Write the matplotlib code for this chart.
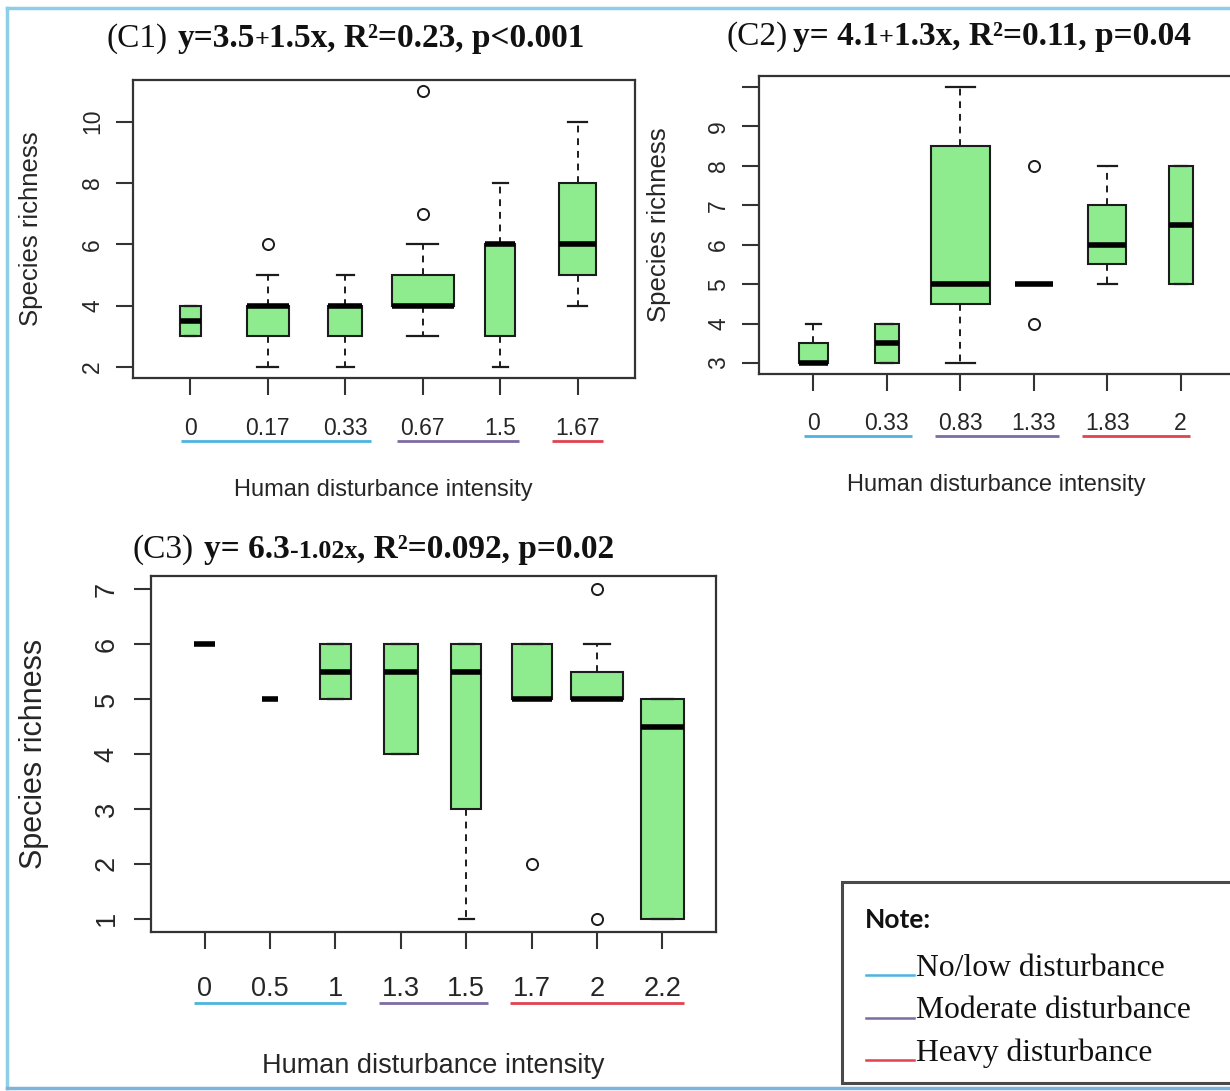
import matplotlib
matplotlib.use('Agg')
import matplotlib.pyplot as plt
from matplotlib.patches import Rectangle
from matplotlib.lines import Line2D
import numpy as np

W, H = 1230, 1091

# ---------------- data ----------------
c1_labels = ['0', '0.17', '0.33', '0.67', '1.5', '1.67']
c1_n = [2, 8, 5, 17, 4, 6]
c1_whislo = [3, 2, 2, 3, 2, 4]
c1_q1 = [3, 3, 3, 4, 3, 5]
c1_med = [3.5, 4, 4, 4, 6, 6]
c1_q3 = [4, 4, 4, 5, 6, 8]
c1_whishi = [4, 5, 5, 6, 8, 10]
c1_fliers = [[], [6], [], [7, 11], [], []]
c1_groups = [0, 0, 0, 1, 1, 2]
c1_yticks = [2, 4, 6, 8, 10]
c1_yticklabels = ['2', '4', '6', '8', '10']

c2_labels = ['0', '0.33', '0.83', '1.33', '1.83', '2']
c2_n = [3, 2, 12, 5, 5, 2]
c2_whislo = [3, 3, 3, 5, 5, 5]
c2_q1 = [3, 3, 4.5, 5, 5.5, 5]
c2_med = [3, 3.5, 5, 5, 6, 6.5]
c2_q3 = [3.5, 4, 8.5, 5, 7, 8]
c2_whishi = [4, 4, 10, 5, 8, 8]
c2_fliers = [[], [], [], [4, 8], [], []]
c2_groups = [0, 0, 1, 1, 2, 2]
c2_yticks = [3, 4, 5, 6, 7, 8, 9, 10]
c2_yticklabels = ['3', '4', '5', '6', '7', '8', '9', '']

c3_labels = ['0', '0.5', '1', '1.3', '1.5', '1.7', '2', '2.2']
c3_n = [2, 1, 4, 5, 4, 7, 12, 8]
c3_whislo = [6, 5, 5, 4, 1, 5, 5, 1]
c3_q1 = [6, 5, 5, 4, 3, 5, 5, 1]
c3_med = [6, 5, 5.5, 5.5, 5.5, 5, 5, 4.5]
c3_q3 = [6, 5, 6, 6, 6, 6, 5.5, 5]
c3_whishi = [6, 5, 6, 6, 6, 6, 6, 5]
c3_fliers = [[], [], [], [], [], [2], [7, 1], []]
c3_groups = [0, 0, 0, 1, 1, 2, 2, 2]
c3_yticks = [1, 2, 3, 4, 5, 6, 7]
c3_yticklabels = ['1', '2', '3', '4', '5', '6', '7']

group_names = ['No/low disturbance', 'Moderate disturbance', 'Heavy disturbance']
group_colors = ['#4DB3E0', '#7E6BA3', '#E0424F']

xlabel_text = 'Human disturbance intensity'
ylabel_text = 'Species richness'

# ---------------- figure ----------------
fig = plt.figure(figsize=(W / 100, H / 100), dpi=100)
fig.patch.set_facecolor('white')
SANS = 'Liberation Sans'
SERIF = 'Liberation Serif'
INK = '#262626'


def fx(x):
    return x / W


def fy(y):
    return 1 - y / H


def panel(rect, labels, n, lo, q1, med, q3, hi, fliers, yticks, yticklabels,
          tick_fs, tick_len, xpad, ypad):
    x0, y0, x1, y1 = rect
    ax = fig.add_axes([fx(x0), fy(y1), (x1 - x0) / W, (y1 - y0) / H])
    k = len(labels)
    pos = np.arange(1, k + 1)
    nmax = max(n)
    widths = [0.8 * np.sqrt(v / nmax) for v in n]
    stats = [dict(med=m, q1=a, q3=b, whislo=l, whishi=h, fliers=f)
             for m, a, b, l, h, f in zip(med, q1, q3, lo, hi, fliers)]
    ax.bxp(stats, positions=pos, widths=widths,
           capwidths=[w * 0.5 for w in widths],
           patch_artist=True, manage_ticks=False,
           boxprops=dict(facecolor='#8EEB8E', edgecolor='#1c1c1c', linewidth=1.5),
           medianprops=dict(color='black', linewidth=4.0, solid_capstyle='butt'),
           whiskerprops=dict(color='#1c1c1c', linewidth=1.4, linestyle=(0, (3.5, 3))),
           capprops=dict(color='#1c1c1c', linewidth=1.6),
           flierprops=dict(marker='o', markerfacecolor='none', markeredgecolor='#1c1c1c',
                           markersize=8, markeredgewidth=1.4))
    ax.set_xlim(0.5 - 0.04 * k, k + 0.5 + 0.04 * k)
    allv = list(lo) + list(hi) + [v for f in fliers for v in f]
    ymin, ymax = min(allv), max(allv)
    r = ymax - ymin
    ax.set_ylim(ymin - 0.04 * r, ymax + 0.04 * r)
    ax.set_xticks(pos)
    ax.set_xticklabels(labels, fontsize=tick_fs, family=SANS, color=INK)
    ax.set_yticks(yticks)
    ax.set_yticklabels(yticklabels, fontsize=tick_fs, family=SANS, color=INK,
                       rotation=90, va='center', ha='center')
    ax.tick_params(axis='both', direction='out', length=tick_len, width=1.5, color='#333333')
    ax.tick_params(axis='x', pad=xpad)
    ax.tick_params(axis='y', pad=ypad)
    for s in ax.spines.values():
        s.set_linewidth(1.6)
        s.set_color('#333333')
    return ax


ax1 = panel((133, 80, 635, 378), c1_labels, c1_n, c1_whislo, c1_q1, c1_med, c1_q3,
            c1_whishi, c1_fliers, c1_yticks, c1_yticklabels, 16.5, 12, 16, 17)
ax2 = panel((759, 76, 1235, 374), c2_labels, c2_n, c2_whislo, c2_q1, c2_med, c2_q3,
            c2_whishi, c2_fliers, c2_yticks, c2_yticklabels, 16.5, 12, 15, 17)
ax3 = panel((151, 576, 716, 932), c3_labels, c3_n, c3_whislo, c3_q1, c3_med, c3_q3,
            c3_whishi, c3_fliers, c3_yticks, c3_yticklabels, 19.5, 12, 20, 20)

# axis labels
fig.text(fx(383), fy(490), xlabel_text, fontsize=17, family=SANS, color=INK, ha='center', va='center')
fig.text(fx(31), fy(229), ylabel_text, fontsize=18.5, family=SANS, color=INK, ha='center', va='center', rotation=90)
fig.text(fx(996), fy(485), xlabel_text, fontsize=17, family=SANS, color=INK, ha='center', va='center')
fig.text(fx(659), fy(225), ylabel_text, fontsize=18.5, family=SANS, color=INK, ha='center', va='center', rotation=90)
fig.text(fx(433), fy(1066), xlabel_text, fontsize=19.5, family=SANS, color=INK, ha='center', va='center')
fig.text(fx(34), fy(754), ylabel_text, fontsize=22, family=SANS, color=INK, ha='center', va='center', rotation=90)

renderer = fig.canvas.get_renderer()


def seq_text(x_px, y_px, pieces):
    x = x_px
    for s, kw, gap in pieces:
        t = fig.text(fx(x), fy(y_px), s, ha='left', va='baseline', color='#111111',
                     family=SERIF, **kw)
        bb = t.get_window_extent(renderer)
        x += bb.width + gap


TFS = 24
nrm = dict(fontsize=TFS)
bld = dict(fontsize=TFS, weight='bold')
sml = dict(fontsize=TFS * 0.78, weight='bold')
seq_text(106, 47, [('(C1)', nrm, 10), ('y=3.5', bld, 0), ('+', sml, 0),
                   ('1.5x, R\u00b2=0.23, p<0.001', bld, 0)])
seq_text(726, 45, [('(C2)', nrm, 6), ('y= 4.1', bld, 0), ('+', sml, 0),
                   ('1.3x, R\u00b2=0.11, p=0.04', bld, 0)])
seq_text(133, 558, [('(C3)', nrm, 10), ('y= 6.3', bld, 0), ('-1.02x', sml, 0),
                    (', R\u00b2=0.092, p=0.02', bld, 0)])

# coloured underlines beneath tick-label groups
for ax, groups in ((ax1, c1_groups), (ax2, c2_groups), (ax3, c3_groups)):
    tls = ax.get_xticklabels()
    for g in sorted(set(groups)):
        idx = [i for i, v in enumerate(groups) if v == g]
        b0 = tls[idx[0]].get_window_extent(renderer)
        b1 = tls[idx[-1]].get_window_extent(renderer)
        yl = min(b0.y0, b1.y0) - 1
        fig.add_artist(Line2D([b0.x0 - 3, b1.x1 + 3], [yl, yl], transform=None,
                              color=group_colors[g], lw=2.0, solid_capstyle='butt'))

# note box
fig.add_artist(Rectangle((fx(842), fy(1083)), (1240 - 842) / W, (1083 - 882) / H,
                         transform=fig.transFigure, fill=True, facecolor='white',
                         edgecolor='#4a4a4a', lw=2.2))
fig.text(fx(865), fy(928), 'Note:', fontsize=19, family='Lato', weight='bold',
         color='#111111', ha='left', va='baseline')
for i, (name, col) in enumerate(zip(group_names, group_colors)):
    yb = 976 + i * 42.5
    fig.add_artist(Line2D([fx(866), fx(914)], [fy(yb - 1), fy(yb - 1)],
                          transform=fig.transFigure, color=col, lw=1.8))
    fig.text(fx(916), fy(yb), name, fontsize=22.8, family=SERIF, color='#111111',
             ha='left', va='baseline')

# outer light-blue frame
frame_col = '#8DCFE6'
fig.add_artist(Line2D([fx(7), fx(7)], [fy(8), fy(1088)], transform=fig.transFigure, color=frame_col, lw=2.5))
fig.add_artist(Line2D([fx(7), fx(1235)], [fy(8), fy(8)], transform=fig.transFigure, color=frame_col, lw=2.5))
fig.add_artist(Line2D([fx(7), fx(1235)], [fy(1088), fy(1088)], transform=fig.transFigure, color='#7FB3D9', lw=2.5))

fig.savefig('out.png', dpi=100, facecolor='white')
